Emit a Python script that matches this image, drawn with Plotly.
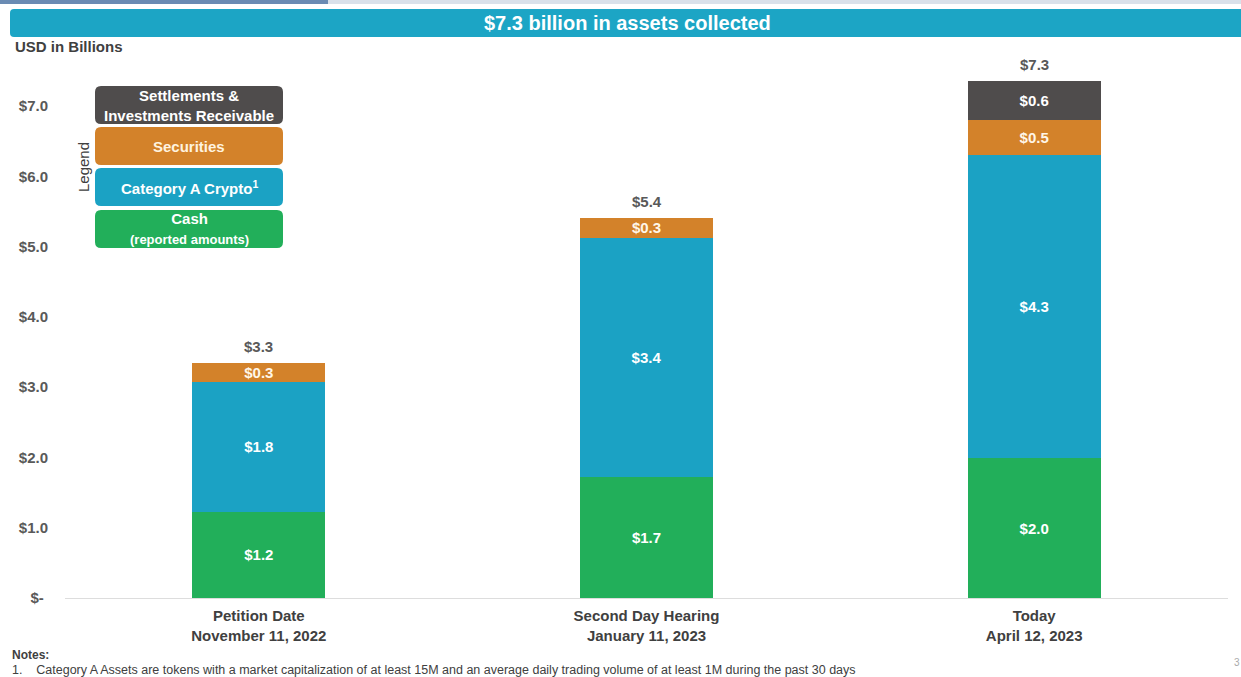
import plotly.graph_objects as go

# ---------------- data ----------------
categories = ["Petition Date<br>November 11, 2022",
              "Second Day Hearing<br>January 11, 2023",
              "Today<br>April 12, 2023"]
series_names = ["Cash", "Category A Crypto", "Securities", "Settlements & Investments Receivable"]
cash = [1.23, 1.72, 1.99]
crypto = [1.85, 3.41, 4.31]
securities = [0.27, 0.28, 0.50]
settlements = [0.0, 0.0, 0.56]
cash_labels = ["$1.2", "$1.7", "$2.0"]
crypto_labels = ["$1.8", "$3.4", "$4.3"]
securities_labels = ["$0.3", "$0.3", "$0.5"]
settlements_labels = ["", "", "$0.6"]
total_labels = ["$3.3", "$5.4", "$7.3"]
y_tickvals = [0, 1, 2, 3, 4, 5, 6, 7]
y_ticktext = ["$-\u00a0", "$1.0", "$2.0", "$3.0", "$4.0", "$5.0", "$6.0", "$7.0"]

# ---------------- style ----------------
FONT = "Liberation Sans, Arial, sans-serif"
C_CASH = "#22AF5A"
C_CRYPTO = "#1BA2C4"
C_SEC = "#D3822A"
C_SET = "#4F4C4C"
C_BANNER = "#1CA5C5"
C_TEXT = "#404040"

W, H = 1241, 677
L, R, T, B = 65, 1228, 78, 598


def px(xp):
    return (xp - L) / (R - L)


def py(yp):
    return (B - yp) / (B - T)


def rounded_rect(x0, y0, x1, y1, r=6):
    # pixel coords -> paper path with rounded corners
    rx = r / (R - L)
    ry = r / (B - T)
    X0, X1 = px(x0), px(x1)
    Yt, Yb = py(y0), py(y1)
    return (f"M {X0+rx},{Yt} L {X1-rx},{Yt} Q {X1},{Yt} {X1},{Yt-ry} "
            f"L {X1},{Yb+ry} Q {X1},{Yb} {X1-rx},{Yb} L {X0+rx},{Yb} "
            f"Q {X0},{Yb} {X0},{Yb+ry} L {X0},{Yt-ry} Q {X0},{Yt} {X0+rx},{Yt} Z")


def note(xp, yp, text, size, color, bold=False, xanchor="center", angle=0):
    f = dict(family=FONT, size=size, color=color)
    if bold:
        f["weight"] = "bold"
    return dict(x=px(xp), y=py(yp), xref="paper", yref="paper", showarrow=False,
                xanchor=xanchor, yanchor="middle", text=text, textangle=angle, font=f)


fig = go.Figure()
xs = list(range(len(categories)))
seg = [(cash, cash_labels, C_CASH, "#FFFFFF"),
       (crypto, crypto_labels, C_CRYPTO, "#FFFFFF"),
       (securities, securities_labels, C_SEC, "#FFF6E8"),
       (settlements, settlements_labels, C_SET, "#FFFFFF")]
for name, (vals, labs, col, tcol) in zip(series_names, seg):
    idx = [i for i, v in enumerate(vals) if v > 0]
    fig.add_trace(go.Bar(
        x=[xs[i] for i in idx], y=[vals[i] for i in idx], name=name,
        marker=dict(color=col, line=dict(width=0)),
        width=0.343, text=[labs[i] for i in idx], textposition="inside", insidetextanchor="middle",
        textfont=dict(family=FONT, size=15, color=tcol, weight="bold"),
        textangle=0, hoverinfo="skip", showlegend=False))

totals = [a + b + c + d for a, b, c, d in zip(cash, crypto, securities, settlements)]
annotations = []
for x, t, lab in zip(xs, totals, total_labels):
    annotations.append(dict(x=x, y=t, xref="x", yref="y", text=lab, showarrow=False,
                            yanchor="middle", yshift=16,
                            font=dict(family=FONT, size=15, color="#595959", weight="bold")))

shapes = []
# top strip
shapes.append(dict(type="rect", xref="paper", yref="paper", x0=px(0), x1=px(W), y0=py(4), y1=py(0),
                   fillcolor="#D9E1EA", line=dict(width=0), layer="above"))
shapes.append(dict(type="rect", xref="paper", yref="paper", x0=px(0), x1=px(328), y0=py(4), y1=py(0),
                   fillcolor="#6A8BB3", line=dict(width=0), layer="above"))
# title banner
shapes.append(dict(type="path", xref="paper", yref="paper", path=rounded_rect(10, 9, 1248, 37, 4),
                   fillcolor=C_BANNER, line=dict(width=0), layer="above"))
annotations.append(note(627, 23, "$7.3 billion in assets collected", 20, "#FFFFFF", bold=True))
annotations.append(note(13, 47, "USD in Billions", 15, C_TEXT, bold=True, xanchor="left"))

# custom legend boxes
legend_boxes = [
    (86, 124, C_SET, "Settlements &<br>Investments Receivable", "#FFFFFF"),
    (127, 165, C_SEC, "Securities", "#FFF3DF"),
    (168, 206, C_CRYPTO, "Category A Crypto<sup>1</sup>", "#FFFFFF"),
    (210, 248, C_CASH, "Cash<br><span style='font-size:13px'>(reported amounts)</span>", "#FFFFFF"),
]
for y0, y1, col, txt, tcol in legend_boxes:
    shapes.append(dict(type="path", xref="paper", yref="paper", path=rounded_rect(95, y0, 283, y1, 6),
                       fillcolor=col, line=dict(width=0), layer="above"))
    annotations.append(note(189, (y0 + y1) / 2, txt, 15, tcol, bold=True))
annotations.append(note(84, 167, "Legend", 15, C_TEXT, angle=-90))

# notes
annotations.append(note(10, 655, "Notes:", 12, C_TEXT, bold=True, xanchor="left"))
annotations.append(note(10, 670,
                        "1.    Category A Assets are tokens with a market capitalization of at least 15M and an average daily trading volume of at least 1M during the past 30 days",
                        12.5, C_TEXT, xanchor="left"))
annotations.append(note(1232, 662, "3", 10, "#AAAAAA", xanchor="left"))

fig.update_layout(
    barmode="stack",
    width=W, height=H,
    margin=dict(l=L, r=W - R, t=T, b=H - B, pad=0),
    paper_bgcolor="#FFFFFF", plot_bgcolor="#FFFFFF",
    font=dict(family=FONT, color=C_TEXT),
    uniformtext=dict(minsize=15, mode="show"),
    shapes=shapes, annotations=annotations,
    showlegend=False,
    xaxis=dict(range=[-0.5, 2.5], tickmode="array", tickvals=xs, ticktext=categories,
               showgrid=False, zeroline=False, showline=True, linecolor="#DDDDDD", linewidth=1,
               ticks="", ticklabelstandoff=4,
               tickfont=dict(family=FONT, size=15, color=C_TEXT, weight="bold")),
    yaxis=dict(range=[0, 7.4], tickmode="array", tickvals=y_tickvals, ticktext=y_ticktext,
               showgrid=False, zeroline=False, showline=False, ticks="",
               ticklabelstandoff=16,
               tickfont=dict(family=FONT, size=15, color="#595959", weight="bold")),
)

fig.write_html("out.html", config={"displayModeBar": False},
               post_script="document.body.style.margin='0';document.body.style.overflow='hidden';")
